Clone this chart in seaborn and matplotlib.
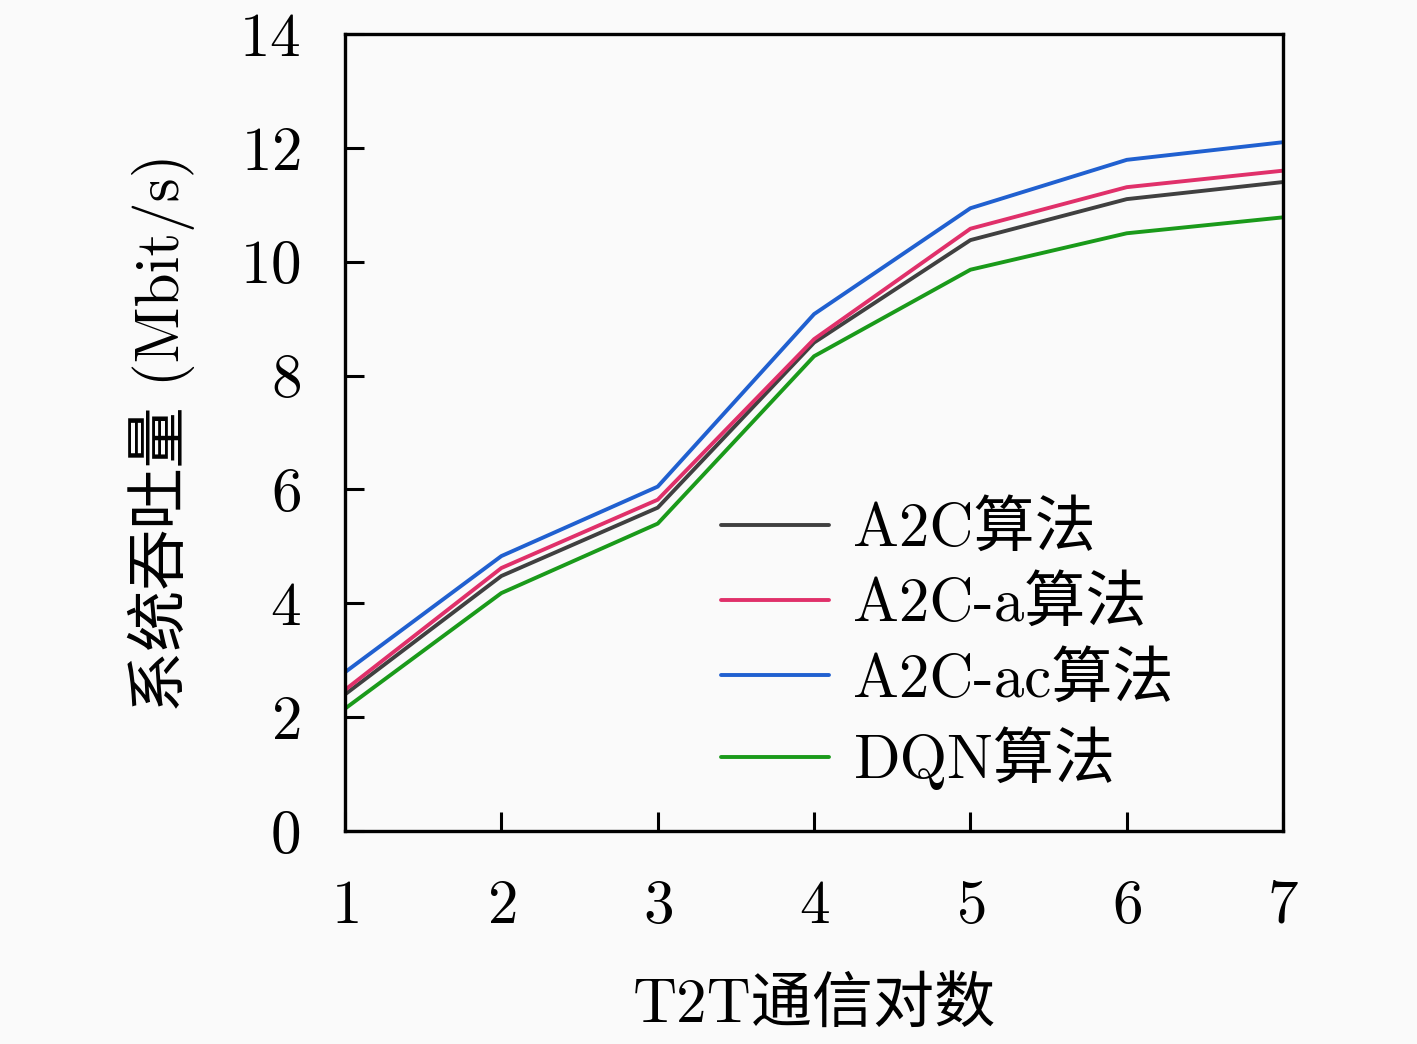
import pandas as pd
import matplotlib.pyplot as plt
import seaborn as sns

# T2T pairs on the x axis
pairs = [1, 2, 3, 4, 5, 6, 7]

# system throughput (Mbit/s)
a2c = [2.40, 4.48, 5.68, 8.58, 10.38, 11.10, 11.40]
a2c_a = [2.48, 4.62, 5.82, 8.64, 10.58, 11.31, 11.60]
a2c_ac = [2.79, 4.83, 6.05, 9.08, 10.94, 11.79, 12.10]
dqn = [2.15, 4.18, 5.40, 8.34, 9.86, 10.50, 10.78]

labels = ['A2C算法', 'A2C-a算法', 'A2C-ac算法', 'DQN算法']
colors = ['#404040', '#e0306a', '#2060d0', '#1a9a1a']

rows = []
for lab, vals in zip(labels, [a2c, a2c_a, a2c_ac, dqn]):
    for x, v in zip(pairs, vals):
        rows.append({'pairs': x, 'throughput': v, 'algo': lab})
df = pd.DataFrame(rows)

sns.set_style('ticks')
plt.rcParams['font.family'] = ['cmr10', 'Noto Sans CJK SC', 'DejaVu Sans']
plt.rcParams['axes.formatter.use_mathtext'] = True
plt.rcParams['text.color'] = 'black'
plt.rcParams['axes.labelcolor'] = 'black'
plt.rcParams['xtick.color'] = 'black'
plt.rcParams['ytick.color'] = 'black'
plt.rcParams['axes.edgecolor'] = 'black'

fig = plt.figure(figsize=(14.17, 10.44), dpi=100, facecolor='#fafafa')
ax = fig.add_axes([0.2435, 0.204, 0.662, 0.7634])
ax.set_facecolor('#fafafa')

sns.lineplot(data=df, x='pairs', y='throughput', hue='algo', hue_order=labels,
             palette=colors, linewidth=2.8, ax=ax)

ax.set_xlim(1, 7)
ax.set_ylim(0, 14)
ax.set_xticks(pairs)
ax.set_yticks(range(0, 15, 2))
ax.tick_params(direction='in', length=14, width=2.2, labelsize=44, pad=32,
               top=False, right=False)
ax.tick_params(axis='x', pad=35)
for s in ax.spines.values():
    s.set_linewidth(2.4)

ax.set_xlabel('T2T通信对数', fontsize=44, labelpad=30)
ax.set_ylabel('系统吞吐量 (Mbit/s)', fontsize=44, labelpad=32)

leg = ax.legend(loc='lower left', bbox_to_anchor=(0.342, -0.018), frameon=False,
                fontsize=44, handlelength=1.77, handletextpad=0.4, labelspacing=0.3)

fig.savefig('out.png', dpi=100, facecolor=fig.get_facecolor())
